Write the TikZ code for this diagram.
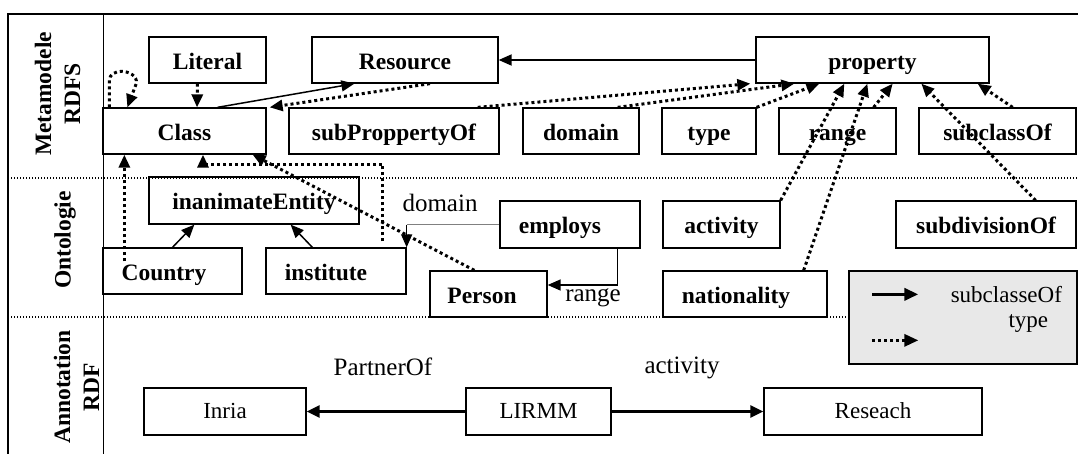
\documentclass[tikz,border=0pt]{standalone}
\usepackage{fontspec}
\setmainfont{Liberation Serif}
\usetikzlibrary{arrows.meta,calc}
\definecolor{leggray}{RGB}{232,232,232}
\begin{document}
\begin{tikzpicture}[x=1pt,y=-1pt,
  bx/.style={draw,line width=1.3pt,inner sep=0pt,text height=18pt,text depth=0pt,font=\fontsize{23.5}{27}\selectfont\bfseries},
  abx/.style={draw,line width=1.3pt,inner sep=0pt,text height=13pt,text depth=0pt,font=\fontsize{23}{27}\selectfont},
  lbl/.style={font=\fontsize{25}{29}\selectfont,inner sep=0pt},
  leglbl/.style={font=\fontsize{23}{27}\selectfont,inner sep=0pt},
  sec/.style={rotate=90,align=center,font=\fontsize{23.5}{29}\selectfont\bfseries,inner sep=0pt},
  dotarrow/.style={line width=3pt,dash pattern=on 3pt off 3pt,-{Triangle[length=13pt,width=11pt]}},
  solarrow/.style={line width=1.5pt,-{Triangle[length=13pt,width=11pt]}},
  thickarrow/.style={line width=2.5pt,-{Triangle[length=13pt,width=12pt]}},
  sepline/.style={line width=1.2pt,dash pattern=on 1.3pt off 1.7pt},
]
\useasboundingbox (0,0) rectangle (1078,453);
\clip (0,0) rectangle (1078,453);

% frame
\draw[line width=1pt] (103,14) -- (103,460);
\draw[line width=2.5pt] (8,470) -- (8,14) -- (1090,14);
\draw[sepline] (8,178) -- (1090,178);
\draw[sepline] (8,317) -- (1090,317);

% section labels
\node[sec] (s1) at (57.5,94) {Metamodele\\RDFS};
\node[sec] (s2) at (65,240) {Ontologie};
\node[sec] (s3) at (76.5,387) {Annotation\\RDF};

% metamodel boxes
\node[bx,minimum width=117pt,minimum height=46pt] (lit) at (207.5,60) {Literal};
\node[bx,minimum width=186pt,minimum height=46pt] (res) at (405,60) {Resource};
\node[bx,minimum width=233pt,minimum height=46pt] (prop) at (872.5,60) {property};
\node[bx,minimum width=163pt,minimum height=46pt] (cls) at (184.5,131) {Class};
\node[bx,minimum width=210pt,minimum height=46pt] (spo) at (394,131) {subProppertyOf};
\node[bx,minimum width=116pt,minimum height=46pt] (dom) at (581,131) {domain};
\node[bx,minimum width=94pt,minimum height=46pt] (typ) at (709,131) {type};
\node[bx,minimum width=117pt,minimum height=46pt] (rng) at (837.5,131) {range};
\node[bx,minimum width=157pt,minimum height=46pt] (sco) at (997.5,131) {subclassOf};

% ontology boxes
\node[bx,minimum width=210pt,minimum height=47pt] (ina) at (254,200.5) {inanimateEntity};
\node[bx,minimum width=139pt,minimum height=46pt] (ctry) at (172.5,271) {Country\hspace*{17pt}};
\node[bx,minimum width=140pt,minimum height=46pt] (inst) at (336,271) {institute\hspace*{20pt}};
\node[bx,minimum width=117pt,minimum height=46pt] (pers) at (488.5,294) {Person\hspace*{13pt}};
\node[bx,minimum width=140pt,minimum height=47pt] (emp) at (570,224.5) {employs\hspace*{20pt}};
\node[bx,minimum width=117pt,minimum height=47pt] (act) at (721.5,224.5) {activity};
\node[bx,minimum width=164pt,minimum height=46pt] (nat) at (745,294) {nationality\hspace*{18pt}};
\node[bx,minimum width=180pt,minimum height=47pt] (sub) at (986,224.5) {subdivisionOf};

% legend
\node[draw,line width=1.3pt,fill=leggray,minimum width=228pt,minimum height=93pt] (leg) at (963,317.5) {};
\draw[line width=3.5pt,-{Triangle[length=14pt,width=12pt]}] ([shift={(24pt,-24pt)}]leg.north west) coordinate (la1) -- ++(46,0) coordinate (la2);
\draw[line width=3pt,dash pattern=on 3pt off 3pt,-{Triangle[length=14pt,width=12pt]}] ([shift={(24pt,-70pt)}]leg.north west) coordinate (lb1) -- ++(46,0) coordinate (lb2);
\node[leglbl] (lt1) at ([shift={(158pt,-24pt)}]leg.north west) {subclasseOf};
\node[leglbl] (lt2) at ([shift={(180pt,-53pt)}]leg.north west) {type};

% annotation boxes
\node[abx,minimum width=162pt,minimum height=47pt] (inria) at (225,411.5) {Inria};
\node[abx,minimum width=145pt,minimum height=47pt] (lirmm) at (538.5,411.5) {LIRMM};
\node[abx,minimum width=218pt,minimum height=47pt] (rsch) at (873,411.5) {Reseach};

% labels
\node[lbl] (ldom) at (440,203) {domain};
\node[lbl] (lrng) at (593,298) {range};
\node[lbl] (lpart) at (383,367) {PartnerOf};
\node[lbl] (lact) at (682,368) {activity};

% metamodel connectors
\draw[line width=1.8pt,-{Triangle[length=13pt,width=11pt]}] (prop.west) -- (res.east);
\draw[solarrow] ([xshift=33pt]cls.north) -- ([xshift=43pt]res.south west);
\draw[dotarrow] ([xshift=-10pt]lit.south) -- ([xshift=12.5pt]cls.north);
\draw[dotarrow] ([xshift=7pt]cls.north west) -- ++(0,-27) to[out=90,in=180] ++(12,-9) to[out=0,in=80] ++(15,12) -- ([xshift=25pt]cls.north west);
\draw[dotarrow] ([xshift=25pt]res.south) -- ([xshift=3pt]cls.north east);
\draw[dotarrow] ([xshift=-22pt]spo.north east) -- ([xshift=-5pt]prop.south west);
\draw[dotarrow] ([xshift=-22pt]dom.north east) -- ([xshift=39pt]prop.south west);
\draw[dotarrow] (typ.north east) -- ([xshift=64pt]prop.south west);
\draw[dotarrow] ([xshift=-23pt]rng.north east) -- ([xshift=-97pt]prop.south east);
\draw[dotarrow] (act.north east) -- ([xshift=89pt]prop.south west);
\draw[dotarrow] ([xshift=-24pt]nat.north east) -- ([xshift=112pt]prop.south west);
\draw[dotarrow] ([xshift=-64pt]sco.north east) -- ([xshift=-12pt]prop.south east);
\draw[dotarrow] ([xshift=-41pt]sub.north east) -- ([xshift=166pt]prop.south west);

% ontology connectors
\draw[dotarrow] ([shift={(22pt,-14pt)}]ctry.north west) -- ([xshift=22pt]cls.south west);
\draw[dotarrow] ([shift={(-24pt,6pt)}]inst.north east) -- ++(0,-77) -| ([xshift=18.5pt]cls.south);
\draw[dotarrow] ([xshift=45pt]pers.north west) -- ([xshift=-14pt]cls.south east);
\coordinate (dk) at (emp.west -| inst.north east);
\draw[line width=0.6pt,gray] (emp.west) -- (dk);
\draw[solarrow] (dk) -- (inst.north east);
\draw[solarrow] ([xshift=-23pt]emp.south east) |- ([yshift=9pt]pers.east);
\draw[solarrow] (ctry.north) -- ([xshift=46pt]ina.south west);
\draw[solarrow] ([xshift=47pt]inst.north west) -- ([xshift=-69pt]ina.south east);

% annotation connectors
\draw[thickarrow] (lirmm.west) -- (inria.east);
\draw[thickarrow] (lirmm.east) -- (rsch.west);
\end{tikzpicture}
\end{document}
